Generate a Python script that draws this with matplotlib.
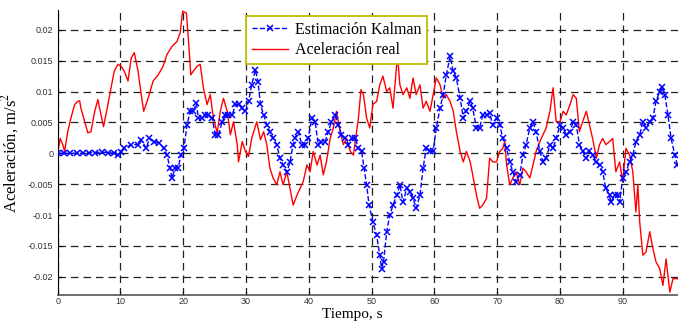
#!/usr/bin/python3
import matplotlib
matplotlib.use("Agg")
import matplotlib.pyplot as plt
import matplotlib.ticker as mticker

# Aceleracion real (red)
t_real = [0.0, 0.4, 0.8, 1.1, 1.6, 2.1, 2.7, 3.2, 3.5, 3.7, 4.3, 4.8, 5.3, 5.9, 6.4, 6.9, 7.3,
          8.0, 8.5, 9.0, 9.6, 10.1, 10.6, 11.2, 11.7, 12.2, 12.8, 13.3, 13.7, 14.4, 15.2, 16.0,
          16.8, 17.4, 18.2, 19.0, 19.5, 19.9, 20.5, 20.8, 21.2, 21.6, 22.2, 22.7, 23.2, 23.8,
          24.3, 24.8, 25.4, 25.9, 26.4, 27.0, 27.5, 28.0, 28.6, 28.8, 29.4, 29.9, 30.4, 30.9,
          31.7, 32.3, 32.8, 33.3, 33.8, 34.3, 34.9, 35.4, 35.9, 36.5, 37.0, 37.5, 38.1, 38.6,
          39.1, 39.7, 40.2, 40.7, 41.3, 41.8, 42.3, 42.8, 43.4, 43.9, 44.4, 45.0, 45.5, 46.0,
          46.6, 47.1, 47.6, 47.9, 48.3, 48.7, 49.2, 49.7, 50.2, 50.8, 51.3, 51.8, 52.4, 52.9,
          53.4, 54.0, 54.2, 54.5, 55.0, 55.6, 56.1, 56.6, 57.1, 57.7, 58.2, 58.7, 59.3, 59.8,
          60.3, 60.9, 61.4, 61.9, 62.5, 63.0, 63.5, 64.1, 64.6, 65.1, 65.7, 66.1, 66.7, 67.2,
          67.7, 68.3, 68.8, 69.3, 69.9, 70.4, 70.9, 71.2, 71.5, 72.0, 72.5, 73.0, 73.6, 74.1,
          74.6, 75.2, 75.7, 76.2, 76.8, 77.3, 77.8, 78.4, 78.9, 79.4, 80.0, 80.5, 81.0, 81.6,
          82.1, 82.6, 83.1, 83.6, 84.2, 84.7, 85.2, 85.8, 86.3, 86.8, 87.3, 87.9, 88.4, 88.9,
          89.5, 90.0, 90.5, 91.1, 91.6, 92.1, 92.4, 92.7, 93.2, 93.7, 94.3, 94.8, 95.3, 95.9,
          96.4, 96.9, 97.5, 98.0, 98.8]
a_real = [0.0, 0.0024, 0.0014, 0.0003, 0.0035, 0.0057, 0.0079, 0.0084, 0.0085, 0.0073, 0.0051,
          0.0033, 0.0035, 0.0068, 0.0087, 0.0062, 0.0043, 0.0079, 0.0106, 0.0133, 0.0144,
          0.0141, 0.0133, 0.0117, 0.0154, 0.0163, 0.0133, 0.0095, 0.0068, 0.0089, 0.0117,
          0.0127, 0.0141, 0.016, 0.0173, 0.0181, 0.0195, 0.023, 0.0227, 0.0187, 0.0127,
          0.0133, 0.0141, 0.0144, 0.0106, 0.0079, 0.0095, 0.0057, 0.0033, 0.0068, 0.0089,
          0.0068, 0.003, 0.0051, 0.0014, -0.0014, 0.0019, 0.0003, -0.0005, 0.0024, 0.0051,
          0.0022, 0.0035, 0.0014, -0.0024, -0.004, -0.0051, -0.003, -0.0051, -0.003, -0.0057,
          -0.0084, -0.0068, -0.0057, -0.0046, -0.0019, -0.003, 0.0003, -0.0019, -0.0003,
          -0.0035, -0.0014, 0.0024, 0.0041, 0.0068, 0.0035, 0.0014, 0.0024, 0.0003, -0.0003,
          0.0035, 0.0057, 0.0103, 0.0095, 0.0057, 0.0041, 0.0079, 0.0084, 0.0111, 0.0125,
          0.01, 0.0106, 0.0073, 0.0144, 0.0149, 0.0111, 0.0095, 0.0106, 0.0089, 0.0122,
          0.0095, 0.0111, 0.0073, 0.0084, 0.0068, 0.0095, 0.0122, 0.0111, 0.0089, 0.0095,
          0.0084, 0.0068, 0.0035, 0.0003, -0.0014, 0.0003, -0.0014, -0.0035, -0.0068,
          -0.0089, -0.0084, -0.0073, -0.0008, -0.0014, -0.0014, 0.0003, 0.0008, 0.0019,
          -0.0019, -0.0051, -0.004, -0.003, -0.0051, -0.0024, -0.003, -0.004, -0.0019,
          0.0003, 0.0019, 0.003, 0.0041, 0.0068, 0.0106, 0.0051, 0.0051, 0.0068, 0.0062,
          0.0079, 0.0095, 0.0089, 0.0035, 0.0051, 0.0068, 0.0046, 0.0024, -0.0008, 0.0014,
          0.0024, 0.0014, 0.0019, 0.0024, -0.003, -0.0014, -0.0046, 0.0008, -0.0003, -0.003,
          -0.0095, -0.0051, -0.0111, -0.0165, -0.016, -0.0127, -0.0154, -0.0176, -0.0187,
          -0.0214, -0.0171, -0.0225, -0.0203, -0.0203]

# Estimacion Kalman (blue)
t_kal = [0.0, 1.0, 2.0, 3.0, 4.0, 5.0, 6.0, 7.0, 8.0, 9.0, 9.6, 10.1, 10.6, 11.7, 12.8, 13.3,
         14.1, 14.6, 15.4, 16.2, 16.9, 17.4, 17.9, 18.2, 18.7, 19.2, 19.6, 20.1, 20.6, 21.1,
         21.6, 22.1, 22.4, 23.0, 23.5, 24.0, 24.6, 25.1, 25.6, 26.2, 26.7, 27.2, 27.8, 28.3,
         28.8, 29.4, 29.9, 30.4, 30.9, 31.5, 31.9, 32.3, 32.8, 33.3, 33.8, 34.3, 34.9, 35.4,
         35.9, 36.5, 37.0, 37.5, 37.8, 38.3, 38.9, 39.4, 39.9, 40.5, 41.0, 41.5, 42.0, 42.6,
         43.1, 43.6, 44.2, 44.7, 45.2, 45.8, 46.3, 46.8, 47.4, 47.9, 48.4, 48.8, 49.2, 49.6,
         50.2, 50.8, 51.3, 51.6, 51.9, 52.4, 52.9, 53.4, 54.0, 54.5, 55.0, 55.6, 56.1, 56.6,
         57.1, 57.7, 58.2, 58.7, 59.3, 59.8, 60.3, 60.9, 61.4, 61.9, 62.5, 63.0, 63.5, 64.1,
         64.6, 65.1, 65.7, 66.1, 66.7, 67.2, 67.7, 68.3, 68.8, 69.3, 69.9, 70.4, 70.9, 71.5,
         72.0, 72.5, 73.0, 73.6, 74.1, 74.6, 75.2, 75.7, 76.2, 76.8, 77.3, 77.8, 78.4, 78.9,
         79.4, 80.0, 80.5, 81.0, 81.6, 82.1, 82.6, 83.1, 83.6, 84.2, 84.7, 85.2, 85.8, 86.3,
         86.8, 87.3, 87.9, 88.1, 88.7, 89.2, 89.5, 90.0, 90.5, 91.1, 91.6, 92.1, 92.7, 93.2,
         93.7, 94.3, 94.8, 95.3, 95.9, 96.3, 96.7, 97.2, 97.7, 98.3, 98.7]
a_kal = [0.0, 0.0, 0.0, 0.0, 0.0, 0.0001, 0.0001, 0.0002, 0.0001, 0.0, -0.0003, 0.0002, 0.0008,
         0.0014, 0.0014, 0.0022, 0.0008, 0.0024, 0.0019, 0.0016, 0.0008, -0.0003, -0.0024,
         -0.004, -0.0024, -0.0024, -0.0003, 0.0008, 0.0046, 0.0068, 0.0068, 0.0081, 0.0057,
         0.0057, 0.0062, 0.0062, 0.0057, 0.003, 0.003, 0.0051, 0.0062, 0.0062, 0.0062,
         0.0079, 0.0079, 0.0073, 0.0068, 0.0084, 0.0111, 0.0135, 0.0116, 0.0079, 0.0062,
         0.0046, 0.0035, 0.0024, 0.0014, -0.0008, -0.0019, -0.003, -0.0014, 0.0014, 0.0024,
         0.0035, 0.0014, 0.0014, 0.0024, 0.0057, 0.0051, 0.0014, 0.0019, 0.0019, 0.0035,
         0.0051, 0.0062, 0.0046, 0.003, 0.0024, 0.0014, 0.0024, 0.0024, 0.0008, 0.0003,
         -0.0024, -0.0051, -0.0084, -0.0111, -0.0133, -0.0165, -0.0187, -0.0176, -0.0127,
         -0.01, -0.0084, -0.0068, -0.0051, -0.0079, -0.0057, -0.0062, -0.0073, -0.0089,
         -0.0068, -0.0024, 0.0008, 0.0003, 0.0003, 0.0041, 0.0073, 0.0095, 0.0127, 0.0157,
         0.0133, 0.0122, 0.0089, 0.0057, 0.0068, 0.0084, 0.0073, 0.0041, 0.0041, 0.0062,
         0.0062, 0.0065, 0.0046, 0.0057, 0.0046, 0.0024, 0.0008, -0.0014, -0.003, -0.0046,
         -0.0035, -0.0003, 0.0014, 0.0041, 0.0051, 0.0035, 0.0003, -0.0014, -0.0008, 0.0014,
         0.0008, 0.0024, 0.0046, 0.0041, 0.003, 0.0035, 0.0051, 0.0046, 0.0014, 0.0003,
         -0.0008, 0.0003, -0.0003, -0.0014, -0.0019, -0.003, -0.0057, -0.0068, -0.0079,
         -0.0068, -0.0068, -0.0079, -0.004, -0.003, -0.0014, -0.0003, 0.0019, 0.003, 0.0051,
         0.0041, 0.0051, 0.0057, 0.0084, 0.01, 0.0108, 0.0095, 0.0062, 0.0024, -0.0003,
         -0.0019]

x_ticks = [0, 10, 20, 30, 40, 50, 60, 70, 80, 90]
y_ticks = [-0.02, -0.015, -0.01, -0.005, 0, 0.005, 0.01, 0.015, 0.02]

plt.rcParams['mathtext.fontset'] = 'stix'

fig = plt.figure(figsize=(6.78, 3.21), dpi=100)
ax = fig.add_axes([57.7 / 678, 26.3 / 321, 1 - 57.7 / 678, (321 - 26.3 - 10) / 321])

ax.plot(t_kal, a_kal, color='blue', linestyle='--', linewidth=1.0,
        marker='x', markersize=3.8, markeredgewidth=1.1, label='Estimación Kalman', zorder=3)
ax.plot(t_real, a_real, color='red', linewidth=1.0, label='Aceleración real', zorder=2)

ax.set_xlim(0, 98.8)
ax.set_ylim(-0.0229, 0.0232)
ax.set_xticks(x_ticks)
ax.set_yticks(y_ticks)
ax.yaxis.set_major_formatter(mticker.FuncFormatter(lambda v, p: '%g' % round(v, 4)))
ax.tick_params(direction='in', length=3, labelsize=6.5)
ax.tick_params(axis='x', pad=1.5)
ax.tick_params(axis='y', pad=3)
for lab in ax.get_xticklabels() + ax.get_yticklabels():
    lab.set_family('Liberation Sans')
    lab.set_color('#333333')

ax.grid(True, color='#222222', linestyle=(0, (6, 4)), linewidth=0.9)
ax.spines['top'].set_visible(False)
ax.spines['right'].set_visible(False)
ax.spines['left'].set_color('black')
ax.spines['bottom'].set_color('#555555')
ax.spines['bottom'].set_linewidth(1.2)

ax.set_ylabel('Aceleración, m/s$^2$', family='Liberation Serif', fontsize=12, labelpad=5)
fig.text(352 / 678, 0.0, 'Tiempo, s', family='Liberation Serif', fontsize=11,
         ha='center', va='bottom')

leg = ax.legend(loc='upper left', bbox_to_anchor=(246 / 678, 1 - 16 / 321),
                bbox_transform=fig.transFigure, borderaxespad=0, fancybox=False,
                framealpha=1, edgecolor='#bdbd00', handlelength=2.3, handletextpad=0.4,
                borderpad=0.35, labelspacing=0.3,
                prop={'family': 'Liberation Serif', 'size': 11.5})
leg.get_frame().set_linewidth(1.3)

plt.savefig('out.png', dpi=100)
plt.close()
